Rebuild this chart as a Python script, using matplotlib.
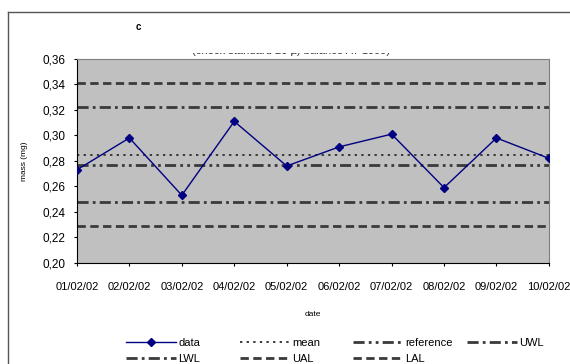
import matplotlib
matplotlib.use("Agg")
import matplotlib.pyplot as plt
from matplotlib.lines import Line2D
from matplotlib.transforms import Bbox

plt.rcParams['font.family'] = ['Liberation Sans', 'DejaVu Sans']

# data
dates = ['01/02/02', '02/02/02', '03/02/02', '04/02/02', '05/02/02',
         '06/02/02', '07/02/02', '08/02/02', '09/02/02', '10/02/02']
mass = [0.273, 0.298, 0.253, 0.311, 0.276, 0.291, 0.301, 0.259, 0.298, 0.282]

mean = 0.285
reference = 0.2765
uwl = 0.3225
lwl = 0.2475
ual = 0.341
lal = 0.2288

yticks = [0.20, 0.22, 0.24, 0.26, 0.28, 0.30, 0.32, 0.34, 0.36]
ytick_labels = ['0,20', '0,22', '0,24', '0,26', '0,28', '0,30', '0,32', '0,34', '0,36']

fig = plt.figure(figsize=(5.7, 3.64), dpi=100)
ax = fig.add_axes([0.135, 0.278, 0.828, 0.560])
ax.set_facecolor('#c0c0c0')

x = list(range(len(dates)))
lc = '#3a3a3a'

h_data, = ax.plot(x, mass, color='#000080', lw=1, marker='D', markersize=4.5, label='data', zorder=5)
h_mean = ax.axhline(mean, color=lc, lw=1.4, dashes=(1.2, 2.2), label='mean')
h_ref = ax.axhline(reference, color=lc, lw=2, dashes=(4, 1.5, 1, 1.5, 1, 1.5), label='reference')
h_uwl = ax.axhline(uwl, color=lc, lw=2, dashes=(4, 1.5, 1, 1.5), label='UWL')
h_lwl = ax.axhline(lwl, color=lc, lw=2, dashes=(4, 1.5, 1, 1.5), label='LWL')
h_ual = ax.axhline(ual, color=lc, lw=2, dashes=(3, 1.6), label='UAL')
h_lal = ax.axhline(lal, color=lc, lw=2, dashes=(3, 1.6), label='LAL')

ax.set_xlim(0, len(dates) - 1)
ax.set_ylim(0.20, 0.36)
ax.set_xticks(x)
ax.set_xticklabels(dates, fontsize=8)
ax.set_yticks(yticks)
ax.set_yticklabels(ytick_labels, fontsize=8.5)
ax.tick_params(axis='both', direction='out', length=2.5, width=0.8, color='black')
ax.tick_params(axis='x', pad=11)
ax.tick_params(axis='y', pad=6)

for s in ['top', 'right']:
    ax.spines[s].set_color('#808080')
    ax.spines[s].set_linewidth(0.8)
for s in ['left', 'bottom']:
    ax.spines[s].set_color('black')
    ax.spines[s].set_linewidth(0.8)

ax.set_xlabel('date', fontsize=6, labelpad=14)
ax.set_ylabel('mass (mg)', fontsize=6, labelpad=10)

# legend: four equal-width columns like the original
cols = [[h_data, h_lwl], [h_mean, h_ual], [h_ref, h_lal], [h_uwl]]
col_x = [126, 240, 353, 467]
for hs, cx in zip(cols, col_x):
    fig.legend(hs, [h.get_label() for h in hs], loc='upper left',
               bbox_to_anchor=(cx / 570, 1 - 338 / 364), frameon=False, fontsize=8,
               handlelength=4.5, handletextpad=0.2, borderpad=0, borderaxespad=0,
               labelspacing=0.55)

# chart label and the cut-off subtitle
fig.text(0.238, 0.925, 'c', fontsize=7, fontweight='bold', va='center')
sub = fig.text(0.51, 1 - 51 / 364, '(check standard 20 µ) balance AT 1999)', fontsize=8,
               ha='center', va='center', color='#333333')
sub.set_clip_box(Bbox.from_extents(0, 0, 570, 364 - 53))

# outer frame of the pasted chart
fig.add_artist(Line2D([0.014, 0.014], [0.0, 0.967], transform=fig.transFigure, color='#555555', lw=1))
fig.add_artist(Line2D([0.014, 1.0], [0.967, 0.967], transform=fig.transFigure, color='#555555', lw=1))

fig.savefig('out.png', dpi=100)
